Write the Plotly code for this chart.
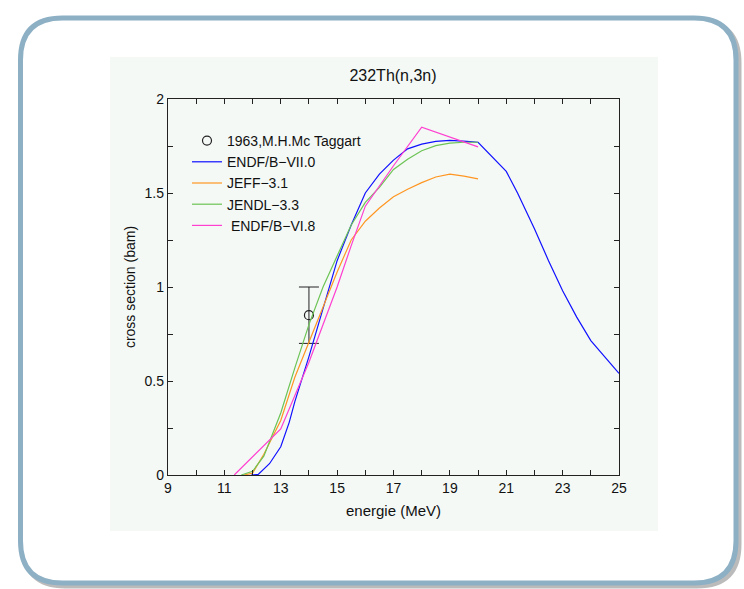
import plotly.graph_objects as go

# ---- data ----
endf7_E = [11.95, 12.2, 12.6, 13.0, 13.3, 13.5, 14.0, 14.5, 15.0, 15.5, 16.0, 16.5, 17.0, 17.5, 18.0, 18.5, 19.0, 19.6, 20.0, 21.0, 21.4, 22.0, 22.5, 23.0, 23.5, 24.0, 25.0]
endf7_s = [0.0, 0.003, 0.06, 0.15, 0.28, 0.39, 0.63, 0.89, 1.14, 1.33, 1.50, 1.60, 1.675, 1.735, 1.76, 1.775, 1.78, 1.775, 1.77, 1.615, 1.50, 1.31, 1.14, 0.98, 0.84, 0.715, 0.54]

jeff_E = [11.7, 12.0, 12.4, 12.7, 13.0, 13.5, 14.0, 14.5, 15.0, 15.5, 16.0, 16.5, 17.0, 17.5, 18.0, 18.5, 19.0, 19.5, 20.0]
jeff_s = [0.0, 0.01, 0.11, 0.20, 0.29, 0.52, 0.71, 0.90, 1.08, 1.25, 1.35, 1.42, 1.48, 1.52, 1.555, 1.585, 1.60, 1.59, 1.575]

jendl_E = [11.6, 12.0, 12.4, 12.7, 13.0, 13.5, 14.0, 14.5, 15.0, 15.5, 16.0, 16.5, 17.0, 17.5, 18.0, 18.5, 19.0, 19.5, 20.0]
jendl_s = [0.0, 0.02, 0.10, 0.22, 0.33, 0.57, 0.80, 1.00, 1.17, 1.33, 1.45, 1.53, 1.625, 1.68, 1.725, 1.752, 1.765, 1.77, 1.77]

endf6_E = [11.35, 12.0, 13.0, 14.0, 14.5, 15.0, 15.5, 16.0, 17.0, 18.0, 20.0]
endf6_s = [0.0, 0.095, 0.245, 0.60, 0.80, 1.00, 1.22, 1.43, 1.645, 1.85, 1.745]

exp_E = [14.0]
exp_s = [0.85]
exp_err = [0.15]

# ---- layout helpers (pixel -> paper) ----
L, R, T, B = 168, 619, 99, 475
W, H = 744, 589
def px(x):
    return (x - L) / (R - L)
def py(y):
    return (B - y) / (B - T)

def rounded(x0, y0, x1, y1, r):
    pts = [
        ("M", x0 + r, y0), ("L", x1 - r, y0), ("Q", x1, y0, x1, y0 + r),
        ("L", x1, y1 - r), ("Q", x1, y1, x1 - r, y1), ("L", x0 + r, y1),
        ("Q", x0, y1, x0, y1 - r), ("L", x0, y0 + r), ("Q", x0, y0, x0 + r, y0),
    ]
    s = ""
    for p in pts:
        if p[0] == "Q":
            s += "Q%.5f,%.5f %.5f,%.5f " % (px(p[1]), py(p[2]), px(p[3]), py(p[4]))
        else:
            s += "%s%.5f,%.5f " % (p[0], px(p[1]), py(p[2]))
    return s + "Z"

FONT = "Liberation Sans, Arial, sans-serif"
PANEL = "#f4f9f6"

fig = go.Figure()
fig.add_trace(go.Scatter(x=exp_E, y=exp_s, mode="markers", name="1963,M.H.Mc Taggart",
                         marker=dict(symbol="circle-open", size=9, color="#222", line=dict(width=1.2)),
                         error_y=dict(type="data", array=exp_err, color="#222", thickness=1, width=10)))
fig.add_trace(go.Scatter(x=endf7_E, y=endf7_s, mode="lines", name="ENDF/B\u2212VII.0",
                         line=dict(color="#1010ff", width=1.2)))
fig.add_trace(go.Scatter(x=jeff_E, y=jeff_s, mode="lines", name="JEFF\u22123.1",
                         line=dict(color="#ff9622", width=1.2)))
fig.add_trace(go.Scatter(x=jendl_E, y=jendl_s, mode="lines", name="JENDL\u22123.3",
                         line=dict(color="#6cc455", width=1.2)))
fig.add_trace(go.Scatter(x=endf6_E, y=endf6_s, mode="lines", name=" ENDF/B\u2212VI.8",
                         line=dict(color="#ff3fd0", width=1.2)))

shapes = [
    dict(type="path", xref="paper", yref="paper", layer="below",
         path=rounded(23.5, 21, 739, 586, 42), line=dict(color="rgba(60,60,60,0.35)", width=5)),
    dict(type="path", xref="paper", yref="paper", layer="below",
         path=rounded(20.5, 18, 736, 583, 42), line=dict(color="#8db0c5", width=5),
         fillcolor="white"),
    dict(type="rect", xref="paper", yref="paper", layer="below",
         x0=px(110), x1=px(658), y0=py(531), y1=py(57), fillcolor=PANEL, line=dict(width=0)),
]

axis_common = dict(showgrid=False, zeroline=False, showline=True, linecolor="#222", linewidth=1.3,
                   mirror="ticks", ticks="inside", ticklen=5, tickwidth=1, tickcolor="#222",
                   tickfont=dict(family=FONT, size=14, color="#111"))

fig.update_layout(
    width=W, height=H,
    margin=dict(l=L, r=W - R, t=T, b=H - B),
    paper_bgcolor="white", plot_bgcolor=PANEL,
    shapes=shapes,
    title=dict(text="232Th(n,3n)", x=px(393), xref="paper", xanchor="center",
               y=1 - 75 / H, yanchor="middle", font=dict(family=FONT, size=16, color="#111")),
    xaxis=dict(range=[9, 25], dtick=2, tick0=9,
               minor=dict(dtick=1, tick0=9, ticks="inside", ticklen=5, tickcolor="#222"),
               title=dict(text="energie (MeV)", font=dict(family=FONT, size=15, color="#111"), standoff=10),
               **axis_common),
    yaxis=dict(range=[0, 2], dtick=0.5, tick0=0,
               minor=dict(dtick=0.25, tick0=0, ticks="inside", ticklen=5, tickcolor="#222"),
               title=dict(text="cross section (bam)", font=dict(family=FONT, size=14, color="#111"), standoff=5),
               **axis_common),
    legend=dict(x=px(187), y=py(125), xanchor="left", yanchor="top", bgcolor="rgba(0,0,0,0)",
                font=dict(family=FONT, size=14, color="#111"), itemwidth=30, tracegroupgap=0),
    showlegend=True,
)

fig.write_html("out.html", post_script="document.body.style.margin='0';",
               config={"displayModeBar": False})
